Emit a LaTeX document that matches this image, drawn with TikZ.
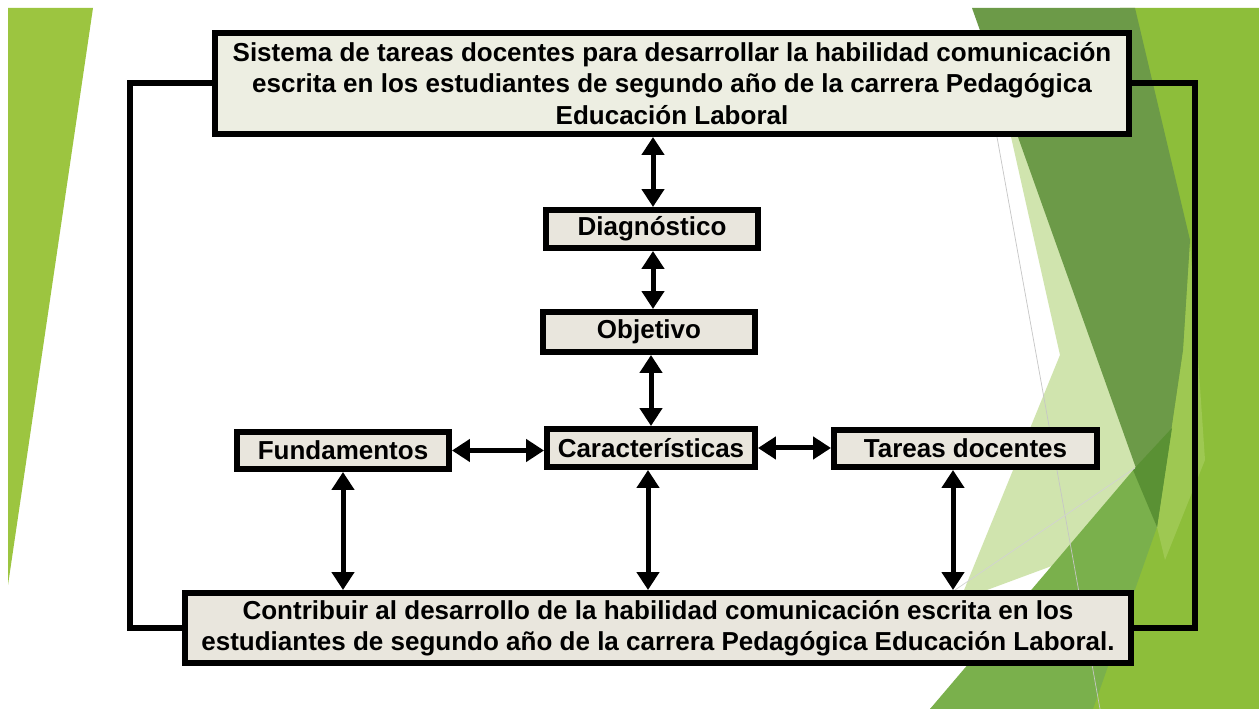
\documentclass[tikz,border=0pt]{standalone}
\usepackage{fontspec}
\setmainfont{Liberation Sans}
\usepackage{xcolor}
\usetikzlibrary{arrows.meta}

\definecolor{fondocaja}{RGB}{233,230,221}
\definecolor{fondotop}{RGB}{237,238,226}
\definecolor{verdeizq}{RGB}{156,197,64}
\definecolor{verdebase}{RGB}{141,190,58}
\definecolor{verdeoscuro}{RGB}{108,154,72}
\definecolor{verdemedio}{RGB}{122,176,76}
\definecolor{verdepalido}{RGB}{208,228,174}
\definecolor{verdefondo}{RGB}{90,145,52}
\definecolor{verdeluz}{RGB}{158,200,82}

\begin{document}
\begin{tikzpicture}[%
    x=0.02cm,
    y=-0.02cm,
    >={Triangle[width=0.44cm,length=0.36cm]},
    caja/.style={%
      draw,
      line width=0.12cm,
      fill=fondocaja,
      inner sep=0pt,
      align=center,
      font=\bfseries\fontsize{14.8}{17.9}\selectfont
    },
    flecha/.style={<->, line width=0.1cm},
    retorno/.style={line width=0.12cm}
  ]
    \useasboundingbox (0,0) rectangle (1259,709);
    \fill[white] (0,0) rectangle (1259,709);

    % fondo de la diapositiva
    \fill[verdeizq] (8,8) -- (93,8) -- (8,585) -- cycle;
    \fill[verdebase] (1120,8) -- (1259,8) -- (1259,709) -- (930,709) -- (1157,527) -- cycle;
    \fill[verdeluz] (1190,240) -- (1205,460) -- (1165,560) -- (1157,527) -- (1183,350) -- cycle;
    \fill[verdepalido] (1005,110) -- (1060,110) -- (1157,527) -- (960,600) -- (1060,355) -- cycle;
    \fill[verdemedio] (930,709) -- (1135,468) -- (1157,527) -- (1093,709) -- cycle;
    \fill[verdeoscuro] (972,8) -- (1135,8) -- (1190,240) -- (1183,350) -- (1157,527) -- cycle;
    \fill[verdefondo] (1133,470) -- (1172,428) -- (1157,527) -- cycle;
    \draw[gray!45, line width=0.4pt] (997,137) -- (1100,709);
    \draw[gray!35, line width=0.4pt] (955,590) -- (1135,468);

    \node[caja, fill=fondotop, minimum width=18.28cm, minimum height=2.02cm] (sis) at (672,83.5)
      {Sistema de tareas docentes para desarrollar la habilidad comunicación\\
       escrita en los estudiantes de segundo año de la carrera Pedagógica\\
       Educación Laboral};
    \node[caja, minimum width=4.24cm, minimum height=0.76cm] (diag) at (652,229)   {Diagnóstico};
    \node[caja, minimum width=4.24cm, minimum height=0.80cm] (obj)  at (649,332)   {Objetivo};
    \node[caja, minimum width=4.16cm, minimum height=0.76cm] (car)  at (651,448)   {Características};
    \node[caja, minimum width=4.24cm, minimum height=0.74cm] (fund) at (343,450.5) {Fundamentos};
    \node[caja, minimum width=5.26cm, minimum height=0.74cm] (tar)  at (965.5,448.5) {Tareas docentes};
    \node[caja, minimum width=18.92cm, minimum height=1.40cm] (meta) at (658,628)
      {Contribuir al desarrollo de la habilidad comunicación escrita en los\\
       estudiantes de segundo año de la carrera Pedagógica Educación Laboral.};

    \coordinate (izq) at (130,0);
    \coordinate (der) at (1195,0);

    \path ([xshift=0.02cm]diag.north) edge[flecha] ([xshift=0.02cm]diag.north |- sis.south)
          ([xshift=0.02cm]diag.south) edge[flecha] ([xshift=0.02cm]diag.south |- obj.north)
          (car.north)                 edge[flecha] (car.north |- obj.south)
          (fund.east)                 edge[flecha] (fund.east -| car.west)
          (car.east)                  edge[flecha] (car.east -| tar.west)
          (fund.south)                edge[flecha] (fund.south |- meta.north)
          ([xshift=-0.06cm]car.south) edge[flecha] ([xshift=-0.06cm]car.south |- meta.north)
          ([xshift=-0.25cm]tar.south) edge[flecha] ([xshift=-0.25cm]tar.south |- meta.north)
          ;

    \draw[retorno] (sis.west) -- (sis.west -| izq) -- (meta.west -| izq) -- (meta.west);
    \draw[retorno] (sis.east) -- (sis.east -| der) -- (meta.east -| der) -- (meta.east);
  \end{tikzpicture}
\end{document}
